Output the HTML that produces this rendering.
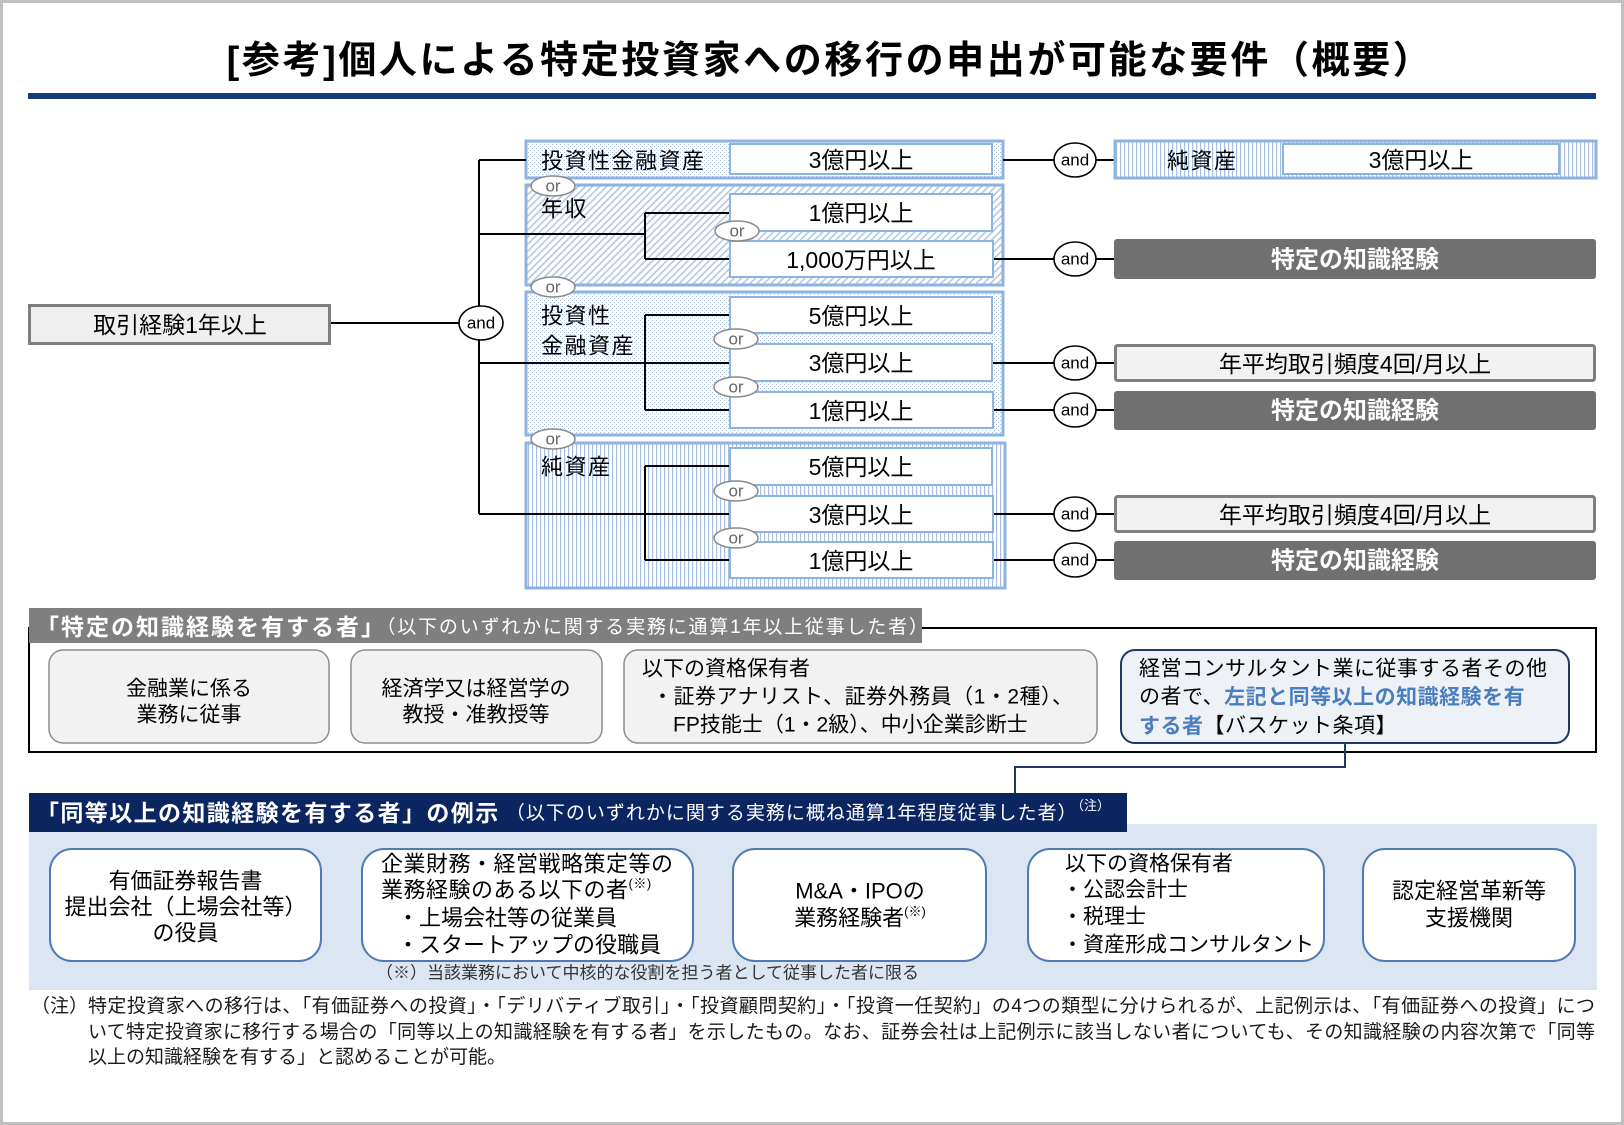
<!DOCTYPE html>
<html lang="ja">
<head>
<meta charset="utf-8">
<style>
html,body{margin:0;padding:0;background:#fff;}
#wrap{position:relative;width:1624px;height:1125px;overflow:hidden;background:#fff;}
svg{position:absolute;left:0;top:0;}
svg text{font-family:"Liberation Sans","Noto Sans CJK JP",sans-serif;fill:#000;}
.c{text-anchor:middle;dominant-baseline:central;}
.l{dominant-baseline:central;}
.foot{position:absolute;font-family:"Liberation Sans","Noto Sans CJK JP",sans-serif;font-size:19px;color:#1a1a1a;line-height:25px;}
.jl{width:1507px;text-align:justify;text-align-last:justify;}
</style>
</head>
<body>
<div id="wrap">
<svg width="1624" height="1125" viewBox="0 0 1624 1125" xmlns="http://www.w3.org/2000/svg">
<defs>
<pattern id="dots" width="4" height="4" patternUnits="userSpaceOnUse">
<rect width="4" height="4" fill="#fff"/>
<rect x="0" y="0" width="1" height="1" fill="#a8bfdd"/>
<rect x="2" y="2" width="1" height="1" fill="#a8bfdd"/>
</pattern>
<pattern id="diag" width="5" height="5" patternUnits="userSpaceOnUse" patternTransform="rotate(45)">
<rect width="5" height="5" fill="#fff"/>
<rect width="1.6" height="5" fill="#b3c7e3"/>
</pattern>
<pattern id="vs" width="4" height="4" patternUnits="userSpaceOnUse">
<rect width="4" height="4" fill="#fff"/>
<rect width="1.2" height="4" fill="#aac0df"/>
</pattern>
</defs>

<!-- frame -->
<rect x="1.5" y="1.5" width="1621" height="1122" fill="#fff" stroke="#c0c0c0" stroke-width="3"/>

<!-- title -->
<text x="830" y="61" class="c" font-size="38" font-weight="bold" letter-spacing="2.6">[参考]個人による特定投資家への移行の申出が可能な要件（概要）</text>
<rect x="28" y="93" width="1568" height="6" fill="#143f7c"/>

<!-- ===== top diagram ===== -->
<rect x="526" y="141" width="477" height="37" fill="url(#dots)" stroke="#8db3e2" stroke-width="3"/>
<rect x="526" y="185" width="477" height="100" fill="url(#diag)" stroke="#8db3e2" stroke-width="3"/>
<rect x="526" y="292" width="477" height="143" fill="url(#dots)" stroke="#8db3e2" stroke-width="3"/>
<rect x="526" y="443" width="479" height="145" fill="url(#vs)" stroke="#8db3e2" stroke-width="3"/>

<g stroke="#000" stroke-width="2" fill="none">
<path d="M479,160 V514"/>
<path d="M479,160 H526"/>
<path d="M479,234 H645 M645,213 V259 M645,213 H730 M645,259 H730"/>
<path d="M479,363 H730 M645,315 V410 M645,315 H730 M645,410 H730"/>
<path d="M479,514 H730 M645,466 V560 M645,466 H730 M645,560 H730"/>
<path d="M330,323 H460"/>
<path d="M1003,160 H1115"/>
<path d="M992,259 H1114"/>
<path d="M992,363 H1115"/>
<path d="M992,410 H1114"/>
<path d="M992,514 H1115"/>
<path d="M992,560 H1114"/>
</g>

<g fill="#fff" stroke="#8db3e2" stroke-width="2">
<rect x="730" y="144" width="262" height="30"/>
<rect x="730" y="194" width="262" height="37"/>
<rect x="730" y="241" width="263" height="36"/>
<rect x="730" y="297" width="262" height="36"/>
<rect x="730" y="344" width="262" height="37"/>
<rect x="730" y="392" width="263" height="36"/>
<rect x="730" y="448" width="262" height="37"/>
<rect x="730" y="496" width="263" height="36"/>
<rect x="730" y="542" width="263" height="36"/>
</g>
<g font-size="23">
<text x="861" y="160" class="c">3億円以上</text>
<text x="861" y="213" class="c">1億円以上</text>
<text x="861" y="260" class="c">1,000万円以上</text>
<text x="861" y="316" class="c">5億円以上</text>
<text x="861" y="363" class="c">3億円以上</text>
<text x="861" y="411" class="c">1億円以上</text>
<text x="861" y="467" class="c">5億円以上</text>
<text x="861" y="515" class="c">3億円以上</text>
<text x="861" y="561" class="c">1億円以上</text>
</g>
<g font-size="22" letter-spacing="1.5">
<text x="541" y="161" class="l">投資性金融資産</text>
<text x="541" y="209" class="l">年収</text>
<text x="541" y="316" class="l">投資性</text>
<text x="541" y="346" class="l">金融資産</text>
<text x="541" y="467" class="l">純資産</text>
</g>

<!-- or ellipses -->
<g fill="#fff" stroke="#8a8a8a" stroke-width="1.5">
<ellipse cx="553" cy="186" rx="22" ry="10"/>
<ellipse cx="553" cy="287" rx="22" ry="10"/>
<ellipse cx="553" cy="439" rx="22" ry="10"/>
<ellipse cx="737" cy="231" rx="22" ry="10"/>
<ellipse cx="736" cy="339" rx="22" ry="10"/>
<ellipse cx="736" cy="387" rx="22" ry="10"/>
<ellipse cx="736" cy="491" rx="22" ry="10"/>
<ellipse cx="736" cy="538" rx="22" ry="10"/>
</g>
<g font-size="17">
<text x="553" y="186" class="c" style="fill:#666">or</text>
<text x="553" y="287" class="c" style="fill:#666">or</text>
<text x="553" y="439" class="c" style="fill:#666">or</text>
<text x="737" y="231" class="c" style="fill:#666">or</text>
<text x="736" y="339" class="c" style="fill:#666">or</text>
<text x="736" y="387" class="c" style="fill:#666">or</text>
<text x="736" y="491" class="c" style="fill:#666">or</text>
<text x="736" y="538" class="c" style="fill:#666">or</text>
</g>

<!-- left box -->
<rect x="29.5" y="305.5" width="300" height="38" fill="#efefef" stroke="#7f7f7f" stroke-width="3"/>
<text x="180" y="325" class="c" font-size="23">取引経験1年以上</text>

<!-- and ellipses -->
<g fill="#fff" stroke="#000" stroke-width="1.6">
<ellipse cx="481" cy="323" rx="22" ry="17"/>
<ellipse cx="1075" cy="160" rx="21" ry="17"/>
<ellipse cx="1075" cy="259" rx="21" ry="17"/>
<ellipse cx="1075" cy="363" rx="21" ry="17"/>
<ellipse cx="1075" cy="410" rx="21" ry="17"/>
<ellipse cx="1075" cy="514" rx="21" ry="17"/>
<ellipse cx="1075" cy="560" rx="21" ry="17"/>
</g>
<g font-size="17">
<text x="481" y="323" class="c">and</text>
<text x="1075" y="160" class="c">and</text>
<text x="1075" y="259" class="c">and</text>
<text x="1075" y="363" class="c">and</text>
<text x="1075" y="410" class="c">and</text>
<text x="1075" y="514" class="c">and</text>
<text x="1075" y="560" class="c">and</text>
</g>

<!-- right boxes -->
<rect x="1115" y="141" width="481" height="37" fill="url(#vs)" stroke="#8db3e2" stroke-width="3"/>
<rect x="1283" y="144" width="276" height="30" fill="#fff" stroke="#8db3e2" stroke-width="2"/>
<text x="1167" y="161" class="l" font-size="22" letter-spacing="1.5">純資産</text>
<text x="1421" y="160" class="c" font-size="23">3億円以上</text>

<g fill="#707070">
<rect x="1114" y="239" width="482" height="40" rx="3"/>
<rect x="1114" y="391" width="482" height="39" rx="3"/>
<rect x="1114" y="541" width="482" height="39" rx="3"/>
</g>
<g fill="#f2f2f2" stroke="#7f7f7f" stroke-width="3">
<rect x="1115.5" y="345.5" width="479" height="35" rx="2"/>
<rect x="1115.5" y="496.5" width="479" height="35" rx="2"/>
</g>
<g font-size="24" font-weight="bold">
<text x="1355" y="260" class="c" style="fill:#fff">特定の知識経験</text>
<text x="1355" y="411" class="c" style="fill:#fff">特定の知識経験</text>
<text x="1355" y="561" class="c" style="fill:#fff">特定の知識経験</text>
</g>
<g font-size="23">
<text x="1355" y="364" class="c">年平均取引頻度4回/月以上</text>
<text x="1355" y="515" class="c">年平均取引頻度4回/月以上</text>
</g>

<!-- ===== section 2 ===== -->
<rect x="29" y="628" width="1567" height="124" fill="#fff" stroke="#000" stroke-width="2"/>
<rect x="29" y="608" width="893" height="35" fill="#7f7f7f"/>
<text x="36" y="627" class="l"><tspan font-size="23" font-weight="bold" letter-spacing="2" style="fill:#fff">「特定の知識経験を有する者」</tspan><tspan font-size="19" letter-spacing="1.8" style="fill:#fff">（以下のいずれかに関する実務に通算1年以上従事した者）</tspan></text>

<g fill="#f2f2f2" stroke="#8c8c8c" stroke-width="1.5">
<rect x="49" y="650" width="280" height="93" rx="14"/>
<rect x="351" y="650" width="251" height="93" rx="14"/>
<rect x="624" y="650" width="473" height="93" rx="14"/>
</g>
<rect x="1121" y="650" width="448" height="93" rx="14" fill="#eef1f6" stroke="#1f3864" stroke-width="2"/>
<g font-size="21">
<text x="189" y="689" class="c">金融業に係る</text>
<text x="189" y="715" class="c">業務に従事</text>
<text x="476" y="689" class="c">経済学又は経営学の</text>
<text x="476" y="715" class="c">教授・准教授等</text>
<text x="642" y="669" class="l">以下の資格保有者</text>
<text x="652" y="697" class="l" letter-spacing="0.5">・証券アナリスト、証券外務員（1・2種）、</text>
<text x="673" y="725" class="l">FP技能士（1・2級）、中小企業診断士</text>
<text x="1139" y="669" class="l" letter-spacing="0.5">経営コンサルタント業に従事する者その他</text>
<text x="1139" y="697" class="l" letter-spacing="0.5">の者で、<tspan font-weight="bold" style="fill:#4a7ebf">左記と同等以上の知識経験を有</tspan></text>
<text x="1139" y="726" class="l" letter-spacing="0.5"><tspan font-weight="bold" style="fill:#4a7ebf">する者</tspan>【バスケット条項】</text>
</g>

<!-- connector -->
<path d="M1345,743 V767 H1015 V793" fill="none" stroke="#1f3864" stroke-width="2"/>

<!-- ===== section 3 ===== -->
<rect x="29" y="824" width="1568" height="166" fill="#dce6f2"/>
<rect x="29" y="793" width="1098" height="39" fill="#0b2561"/>
<text x="36" y="813" class="l"><tspan font-size="23" font-weight="bold" letter-spacing="1.4" style="fill:#fff">「同等以上の知識経験を有する者」の例示</tspan><tspan font-size="19" letter-spacing="1" style="fill:#fff"> （以下のいずれかに関する実務に概ね通算1年程度従事した者）</tspan><tspan font-size="13" dy="-8" style="fill:#fff">（注）</tspan></text>

<g fill="#fff" stroke="#4f7ab3" stroke-width="2">
<rect x="50" y="849" width="271" height="112" rx="22"/>
<rect x="362" y="849" width="331" height="112" rx="22"/>
<rect x="733" y="849" width="253" height="112" rx="22"/>
<rect x="1028" y="849" width="296" height="112" rx="22"/>
<rect x="1363" y="849" width="212" height="112" rx="22"/>
</g>
<g font-size="22">
<text x="185.5" y="881" class="c">有価証券報告書</text>
<text x="185.5" y="907" class="c">提出会社（上場会社等）</text>
<text x="185.5" y="933" class="c">の役員</text>

<text x="381" y="864" class="l" letter-spacing="0.5">企業財務・経営戦略策定等の</text>
<text x="381" y="890" class="l" letter-spacing="0.5">業務経験のある以下の者<tspan font-size="13" dy="-7">(※)</tspan></text>
<text x="397" y="918" class="l">・上場会社等の従業員</text>
<text x="397" y="945" class="l">・スタートアップの役職員</text>

<text x="860" y="891" class="c">M&amp;A・IPOの</text>
<text x="860" y="918" class="c">業務経験者<tspan font-size="13" dy="-7">(※)</tspan></text>

<text x="1469" y="891" class="c">認定経営革新等</text>
<text x="1469" y="918" class="c">支援機関</text>
</g>
<g font-size="21">
<text x="1065" y="864" class="l">以下の資格保有者</text>
<text x="1062" y="890" class="l">・公認会計士</text>
<text x="1062" y="917" class="l">・税理士</text>
<text x="1062" y="945" class="l">・資産形成コンサルタント</text>
</g>
<text x="376" y="973" class="l" font-size="17" style="fill:#333">（※）当該業務において中核的な役割を担う者として従事した者に限る</text>
</svg>

<div class="foot" style="left:31px;top:994px;">（注）</div>
<div class="foot jl" style="left:88px;top:994px;">特定投資家への移行は、「有価証券への投資」・「デリバティブ取引」・「投資顧問契約」・「投資一任契約」の4つの類型に分けられるが、上記例示は、「有価証券への投資」につ</div>
<div class="foot jl" style="left:88px;top:1020px;">いて特定投資家に移行する場合の「同等以上の知識経験を有する者」を示したもの。なお、証券会社は上記例示に該当しない者についても、その知識経験の内容次第で「同等</div>
<div class="foot" style="left:88px;top:1045px;">以上の知識経験を有する」と認めることが可能。</div>
</div>
</body>
</html>
